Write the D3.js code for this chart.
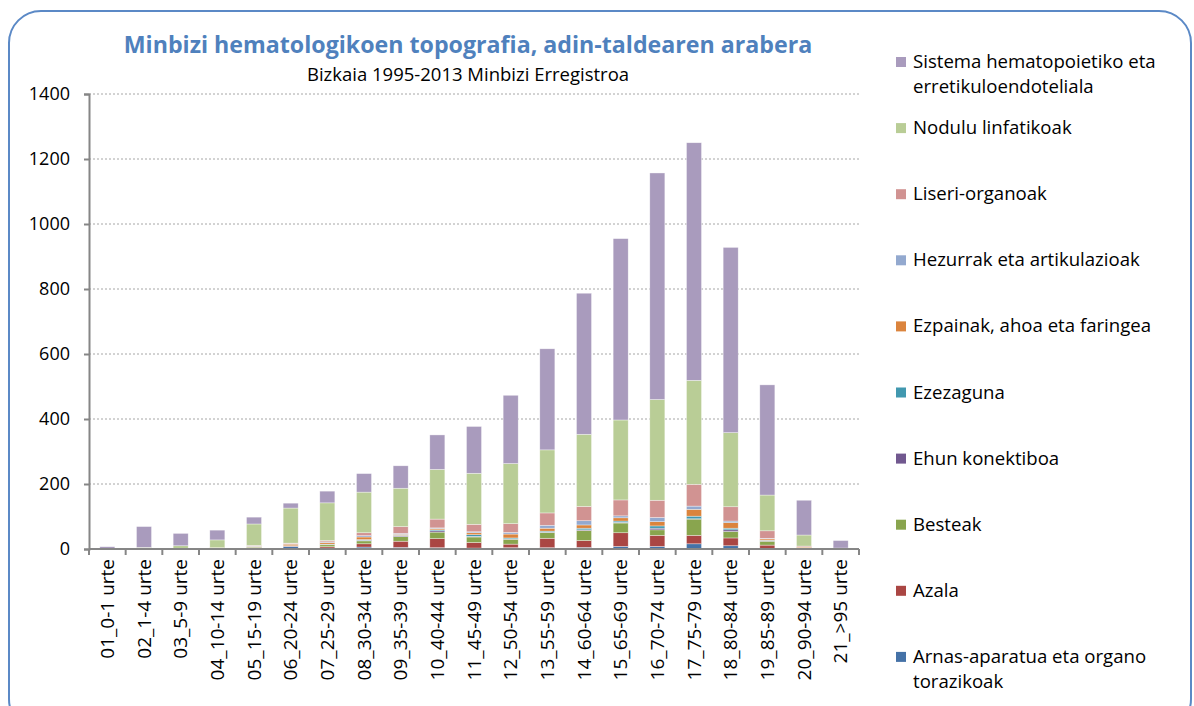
<!DOCTYPE html>
<html>
<head>
<meta charset="utf-8">
<script src="https://cdn.jsdelivr.net/npm/d3@7"></script>
<style>
  body { margin: 0; background: #fff; }
  text { font-family: "Open Sans", Lato, sans-serif; }
</style>
</head>
<body>
<div id="chart"></div>
<script>
// Data
var categories = ["01_0-1 urte", "02_1-4 urte", "03_5-9 urte", "04_10-14 urte", "05_15-19 urte",
  "06_20-24 urte", "07_25-29 urte", "08_30-34 urte", "09_35-39 urte", "10_40-44 urte",
  "11_45-49 urte", "12_50-54 urte", "13_55-59 urte", "14_60-64 urte", "15_65-69 urte",
  "16_70-74 urte", "17_75-79 urte", "18_80-84 urte", "19_85-89 urte", "20_90-94 urte", "21_>95 urte"];

// series, bottom of the stack first
var arnas     = [0, 0, 0, 0, 3, 8, 3, 6, 5, 4, 3, 4, 4, 5, 8, 8, 16, 10, 2, 0, 0];
var azala     = [0, 0, 0, 0, 1, 1, 4, 10, 19, 28, 17, 11, 29, 21, 42, 34, 26, 24, 10, 2, 0];
var besteak   = [0, 0, 0, 0, 2, 1, 6, 9, 14, 20, 17, 15, 18, 31, 30, 17, 50, 20, 12, 2, 0];
var ehun      = [0, 0, 0, 0, 0, 0, 1, 2, 2, 4, 2, 1, 1, 2, 2, 5, 1, 5, 1, 0, 0];
var ezezaguna = [0, 0, 0, 0, 0, 0, 1, 2, 2, 3, 5, 3, 3, 5, 4, 7, 8, 5, 2, 0, 0];
var ezpainak  = [0, 0, 0, 4, 2, 5, 5, 8, 3, 4, 6, 12, 9, 10, 10, 13, 21, 17, 4, 2, 0];
var hezurrak  = [0, 0, 0, 0, 1, 1, 2, 4, 3, 2, 3, 5, 9, 13, 6, 13, 10, 5, 2, 0, 0];
var liseri    = [0, 0, 1, 0, 2, 2, 4, 9, 21, 27, 23, 27, 38, 44, 49, 53, 67, 44, 23, 3, 0];
var nodulu    = [1, 5, 9, 24, 66, 108, 116, 125, 118, 153, 157, 185, 194, 222, 246, 310, 320, 228, 110, 34, 3];
var sistema   = [6, 64, 38, 30, 21, 15, 36, 57, 69, 106, 144, 210, 311, 434, 558, 697, 731, 570, 339, 107, 23];

var seriesNames = ["Arnas-aparatua eta organo torazikoak", "Azala", "Besteak", "Ehun konektiboa",
  "Ezezaguna", "Ezpainak, ahoa eta faringea", "Hezurrak eta artikulazioak", "Liseri-organoak",
  "Nodulu linfatikoak", "Sistema hematopoietiko eta erretikuloendoteliala"];
var seriesValues = [arnas, azala, besteak, ehun, ezezaguna, ezpainak, hezurrak, liseri, nodulu, sistema];
var seriesColors = ["#4572A7", "#AA4643", "#89A54E", "#71588F", "#4198AF",
  "#DB843D", "#93A9CF", "#D19392", "#B9CD96", "#A99BBD"];

var yTicks = [0, 200, 400, 600, 800, 1000, 1200, 1400];

// Chart setup
var svgWidth = 1194;
var svgHeight = 706;

var margin = { top: 94, left: 89 };
var width = 770;
var height = 455;

var svg = d3.select("#chart")
  .append("svg")
  .attr("width", svgWidth)
  .attr("height", svgHeight);

// rounded border
svg.append("rect")
  .attr("x", 9)
  .attr("y", 11)
  .attr("width", 1182)
  .attr("height", 720)
  .attr("rx", 32)
  .attr("fill", "none")
  .attr("stroke", "#5B89C6")
  .attr("stroke-width", 2);

// Titles
svg.append("text")
  .attr("x", 468)
  .attr("y", 53)
  .attr("text-anchor", "middle")
  .attr("font-size", 23.2)
  .attr("font-weight", "bold")
  .attr("fill", "#4F81BD")
  .text("Minbizi hematologikoen topografia, adin-taldearen arabera");

svg.append("text")
  .attr("x", 468)
  .attr("y", 81)
  .attr("text-anchor", "middle")
  .attr("font-size", 18.5)
  .attr("fill", "#000")
  .text("Bizkaia 1995-2013 Minbizi Erregistroa");

var chartGroup = svg.append("g")
  .attr("transform", `translate(${margin.left}, ${margin.top})`);

// Scales
var xScale = d3.scaleBand()
  .domain(categories)
  .range([0, width])
  .paddingInner(0.59)
  .paddingOuter(0.295);

var yScale = d3.scaleLinear()
  .domain([0, 1400])
  .range([height, 0]);

// Gridlines
chartGroup.selectAll(".grid")
  .data(yTicks.slice(1))
  .enter()
  .append("line")
  .attr("x1", 0)
  .attr("x2", width)
  .attr("y1", d => yScale(d))
  .attr("y2", d => yScale(d))
  .attr("stroke", "#A6A6A6")
  .attr("stroke-width", 1)
  .attr("stroke-dasharray", "2,2");

// Stack the data
var table = categories.map(function(c, i) {
  var row = { cat: c };
  seriesNames.forEach(function(name, k) { row[name] = seriesValues[k][i]; });
  return row;
});

var stacked = d3.stack().keys(seriesNames)(table);

var layers = chartGroup.selectAll(".layer")
  .data(stacked)
  .enter()
  .append("g")
  .attr("fill", (d, k) => seriesColors[k]);

layers.selectAll("rect")
  .data(d => d)
  .enter()
  .append("rect")
  .attr("x", d => xScale(d.data.cat))
  .attr("y", d => yScale(d[1]))
  .attr("width", xScale.bandwidth())
  .attr("height", d => yScale(d[0]) - yScale(d[1]))
  .attr("stroke", "#ffffff")
  .attr("stroke-opacity", 0.6)
  .attr("stroke-width", 0.6);

// Axes
var leftAxis = d3.axisLeft(yScale)
  .tickValues(yTicks)
  .tickSize(5)
  .tickPadding(14)
  .tickFormat(d3.format("d"));

var yAxis = chartGroup.append("g").call(leftAxis);
yAxis.select(".domain").attr("stroke", "#868686").attr("stroke-width", 2);
yAxis.selectAll(".tick line").attr("stroke", "#868686").attr("stroke-width", 2);
yAxis.selectAll(".tick text")
  .attr("font-size", 18)
  .attr("font-family", "'Open Sans', sans-serif")
  .attr("fill", "#000");

var xAxis = chartGroup.append("g")
  .attr("transform", `translate(0, ${height})`);

xAxis.append("line")
  .attr("x1", 0)
  .attr("x2", width)
  .attr("stroke", "#868686")
  .attr("stroke-width", 2);

// tick marks between categories
xAxis.selectAll(".xtick")
  .data(d3.range(categories.length + 1))
  .enter()
  .append("line")
  .attr("x1", i => i * xScale.step())
  .attr("x2", i => i * xScale.step())
  .attr("y1", 0)
  .attr("y2", 6)
  .attr("stroke", "#868686")
  .attr("stroke-width", 2);

xAxis.selectAll(".xlabel")
  .data(categories)
  .enter()
  .append("text")
  .attr("transform", d => `translate(${xScale(d) + xScale.bandwidth() / 2 + 6.5}, 10) rotate(-90)`)
  .attr("text-anchor", "end")
  .attr("font-size", 19)
  .attr("fill", "#000")
  .text(d => d);

// Legend, top of the stack first
var legendItems = seriesNames.map((name, k) => ({ name: name, color: seriesColors[k] })).reverse();
var legendLines = {
  "Sistema hematopoietiko eta erretikuloendoteliala": ["Sistema hematopoietiko eta", "erretikuloendoteliala"],
  "Arnas-aparatua eta organo torazikoak": ["Arnas-aparatua eta organo", "torazikoak"]
};

var legend = svg.append("g")
  .attr("transform", "translate(896, 62)");

var legendEntry = legend.selectAll("g")
  .data(legendItems)
  .enter()
  .append("g")
  .attr("transform", (d, i) => `translate(0, ${i * 66.1})`);

legendEntry.append("rect")
  .attr("x", 0)
  .attr("y", -5)
  .attr("width", 10)
  .attr("height", 10)
  .attr("fill", d => d.color);

legendEntry.each(function(d) {
  var lines = legendLines[d.name] || [d.name];
  var t = d3.select(this).append("text")
    .attr("x", 17)
    .attr("y", 6)
    .attr("font-size", 18.6)
    .attr("fill", "#000");
  lines.forEach(function(line, j) {
    t.append("tspan")
      .attr("x", 17)
      .attr("dy", j === 0 ? 0 : 25)
      .text(line);
  });
});
</script>
</body>
</html>
